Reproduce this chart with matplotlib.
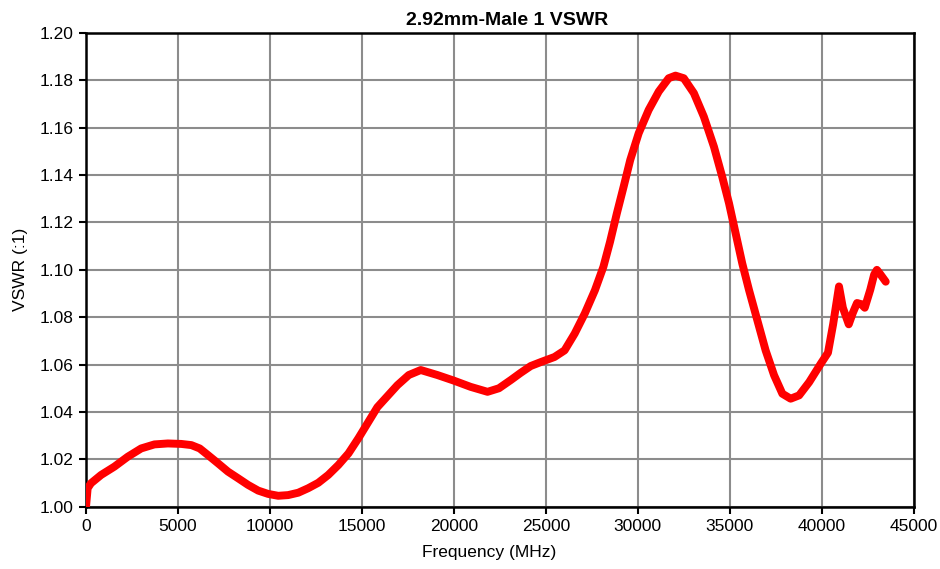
import matplotlib
matplotlib.use("Agg")
import matplotlib.pyplot as plt
from matplotlib.ticker import FormatStrFormatter

plt.rcParams['font.family'] = ['Liberation Sans', 'DejaVu Sans']

freq_mhz = [0, 90, 270, 820, 1540, 2270, 3000, 3720, 4450, 5180, 5730, 6180, 6630,
            7180, 7720, 8270, 8810, 9360, 9900, 10450, 10990, 11540, 12080, 12630,
            13170, 13720, 14270, 14810, 15360, 15840, 16930, 17550, 18200, 19100,
            20010, 20910, 21830, 22450, 23100, 23630, 24180, 24740, 25470, 26020,
            26570, 27120, 27670, 28130, 28490, 28860, 29230, 29590, 30050, 30590,
            31140, 31680, 32050, 32500, 33050, 33590, 34140, 34590, 34960, 35320,
            35680, 36050, 36500, 36950, 37410, 37860, 38310, 38770, 39320, 39950,
            40340, 40620, 40940, 41150, 41470, 41700, 41920, 42150, 42340, 42640,
            42850, 43000, 43200, 43480]
vswr = [1.000, 1.0078, 1.0099, 1.0134, 1.0169, 1.0211, 1.0246, 1.0263, 1.0267, 1.0265,
        1.0260, 1.0246, 1.0218, 1.0183, 1.0148, 1.0120, 1.0092, 1.0068, 1.0054, 1.0046,
        1.0049, 1.0059, 1.0078, 1.0101, 1.0134, 1.0176, 1.0225, 1.0289, 1.0359, 1.0420,
        1.0513, 1.0556, 1.0577, 1.0556, 1.0532, 1.0506, 1.0485, 1.0500, 1.0535, 1.0565,
        1.0594, 1.0611, 1.0632, 1.0660, 1.0731, 1.0816, 1.0914, 1.1013, 1.1118, 1.1238,
        1.1351, 1.1464, 1.1577, 1.1675, 1.1753, 1.1809, 1.1820, 1.1809, 1.1746, 1.1647,
        1.1520, 1.1393, 1.1281, 1.1154, 1.1027, 1.0914, 1.0787, 1.0660, 1.0555, 1.0477,
        1.0456, 1.0470, 1.0526, 1.0604, 1.0650, 1.0770, 1.0930, 1.0840, 1.0770, 1.0820,
        1.0860, 1.0855, 1.0840, 1.0916, 1.0980, 1.1000, 1.0980, 1.0950]

title = "2.92mm-Male 1 VSWR"
xlabel = "Frequency (MHz)"
ylabel = "VSWR (:1)"
xticks = list(range(0, 45001, 5000))
yticks = [1.00, 1.02, 1.04, 1.06, 1.08, 1.10, 1.12, 1.14, 1.16, 1.18, 1.20]

fig = plt.figure(figsize=(9.4, 5.69), dpi=100)
ax = fig.add_axes([0.0915, 0.1095, 0.8805, 0.8325])

ax.plot(freq_mhz, vswr, color='#ff0000', lw=5.7, solid_capstyle='round',
        solid_joinstyle='round', zorder=3)

ax.set_xlim(0, 45000)
ax.set_ylim(1.00, 1.20)
ax.set_xticks(xticks)
ax.set_yticks(yticks)
ax.yaxis.set_major_formatter(FormatStrFormatter('%.2f'))
ax.grid(True, color='#8c8c8c', lw=1.5, zorder=1)
ax.set_axisbelow(True)
for s in ax.spines.values():
    s.set_color('black')
    s.set_linewidth(1.8)
ax.tick_params(direction='out', length=5, width=1.5, color='black',
               labelsize=12.5, pad=4)

fig.text(506.7 / 940, 1 - 25 / 569, title, fontsize=14, fontweight='bold',
         ha='center', va='baseline')
fig.text(489 / 940, 1 - 553 / 569, xlabel, fontsize=12.5,
         ha='center', va='center')
ax.set_ylabel(ylabel, fontsize=12.5, labelpad=8)

fig.savefig("out.png", dpi=100)
